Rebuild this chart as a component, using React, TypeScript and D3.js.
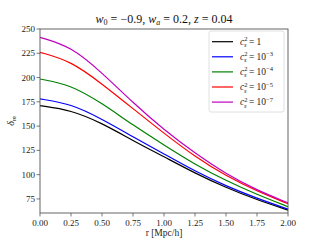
import React from 'react'
import * as d3 from 'd3'

const radii = [0, 0.25, 0.5, 0.75, 1.0, 1.25, 1.5, 1.75, 2.0]
const deltaCs1 = [171, 166.5, 153, 135, 118.5, 101.5, 86.6, 74, 63.5]
const deltaCs3 = [178, 173, 157.3, 139, 121.3, 103.5, 88.3, 75.5, 64.5]
const deltaCs4 = [198.5, 192.5, 173.5, 151, 130.5, 110.5, 93.8, 79.5, 67]
const deltaCs5 = [226, 217, 193.5, 168, 142.5, 118.5, 98.6, 83, 70]
const deltaCs7 = [241.4, 232, 205, 174, 146, 122, 100.7, 84, 71]
const seriesExp = ['1', '-3', '-4', '-5', '-7']
const seriesColors = ['#000000', '#0000ff', '#008000', '#ff0000', '#bf00bf']
const xTicks = [0, 0.25, 0.5, 0.75, 1.0, 1.25, 1.5, 1.75, 2.0]
const yTicks = [75, 100, 125, 150, 175, 200, 225, 250]

const W = 320
const H = 240
const margin = { left: 40, right: 32, top: 29, bottom: 27 }
const font = '"Liberation Serif", "DejaVu Serif", serif'

export default function App() {
  const allSeries = [deltaCs1, deltaCs3, deltaCs4, deltaCs5, deltaCs7]
  const x = d3.scaleLinear().domain([0, 2]).range([margin.left, W - margin.right])
  const y = d3.scaleLinear().domain([60.5, 250]).range([H - margin.bottom, margin.top])

  const line = d3.line<[number, number]>()
    .x(d => x(d[0]))
    .y(d => y(d[1]))
    .curve(d3.curveBasis)

  const x0 = margin.left
  const x1 = W - margin.right
  const y0 = H - margin.bottom
  const y1 = margin.top

  // legend box
  const lg = { x: 209, y: 31, w: 75, h: 81 }

  return (
    <svg width={W} height={H} style={{ position: 'absolute', left: 0, top: 0, background: '#fff' }}
      fontFamily={font}>
      <rect x={0} y={0} width={W} height={H} fill="#fff" />
      <text x={(x0 + x1) / 2} y={23} textAnchor="middle" fontSize={12} fill="#111">
        <tspan fontStyle="italic">w</tspan>
        <tspan fontSize={8} dy={2}>0</tspan>
        <tspan dy={-2}> = −0.9,  </tspan>
        <tspan fontStyle="italic">w</tspan>
        <tspan fontSize={8} fontStyle="italic" dy={2}>a</tspan>
        <tspan dy={-2}> = 0.2,  </tspan>
        <tspan fontStyle="italic">z</tspan>
        <tspan> = 0.04</tspan>
      </text>

      <g>
        {allSeries.map((vals, i) => (
          <path key={i}
            d={line(radii.map((r, j) => [r, vals[j]] as [number, number])) || ''}
            fill="none" stroke={seriesColors[i]} strokeWidth={1.2} />
        ))}
      </g>

      <rect x={x0} y={y1} width={x1 - x0} height={y0 - y1} fill="none" stroke="#555" strokeWidth={0.9} />

      {xTicks.map(t => (
        <g key={t}>
          <line x1={x(t)} x2={x(t)} y1={y0} y2={y0 + 3.5} stroke="#555" strokeWidth={0.8} />
          <text x={x(t)} y={y0 + 12.5} textAnchor="middle" fontSize={9} fill="#222">{t.toFixed(2)}</text>
        </g>
      ))}
      {yTicks.map(t => (
        <g key={t}>
          <line x1={x0 - 3.5} x2={x0} y1={y(t)} y2={y(t)} stroke="#555" strokeWidth={0.8} />
          <text x={x0 - 5} y={y(t) + 3} textAnchor="end" fontSize={9} fill="#222">{t}</text>
        </g>
      ))}

      <text x={(x0 + x1) / 2} y={236} textAnchor="middle" fontSize={9.5} fill="#222">r [Mpc/h]</text>
      <text transform={`translate(14, ${(y0 + y1) / 2}) rotate(-90)`} textAnchor="middle" fontSize={10} fill="#222">
        <tspan fontStyle="italic">δ</tspan>
        <tspan fontSize={7} fontStyle="italic" dy={2}>m</tspan>
      </text>

      <rect x={lg.x} y={lg.y} width={lg.w} height={lg.h} rx={2} fill="#fff" fillOpacity={0.8}
        stroke="#d8d8d8" strokeWidth={0.8} />
      {seriesExp.map((e, i) => {
        const ly = lg.y + 10.7 + i * 15.1
        return (
          <g key={e}>
            <line x1={lg.x + 3} x2={lg.x + 24} y1={ly} y2={ly} stroke={seriesColors[i]} strokeWidth={1.2} />
            <text x={lg.x + 31} y={ly + 3} fontSize={9.5} fill="#222">
              <tspan fontStyle="italic">c</tspan>
              <tspan fontSize={6.5} dy={-3.5}>2</tspan>
              <tspan fontSize={6.5} fontStyle="italic" dx={-3.5} dy={6}>s</tspan>
              <tspan dy={-2.5}> = </tspan>
              {e === '1' ? <tspan>1</tspan> : (
                <>
                  <tspan>10</tspan>
                  <tspan fontSize={6.5} dy={-3.5}>{e.replace('-', '−')}</tspan>
                </>
              )}
            </text>
          </g>
        )
      })}
    </svg>
  )
}
